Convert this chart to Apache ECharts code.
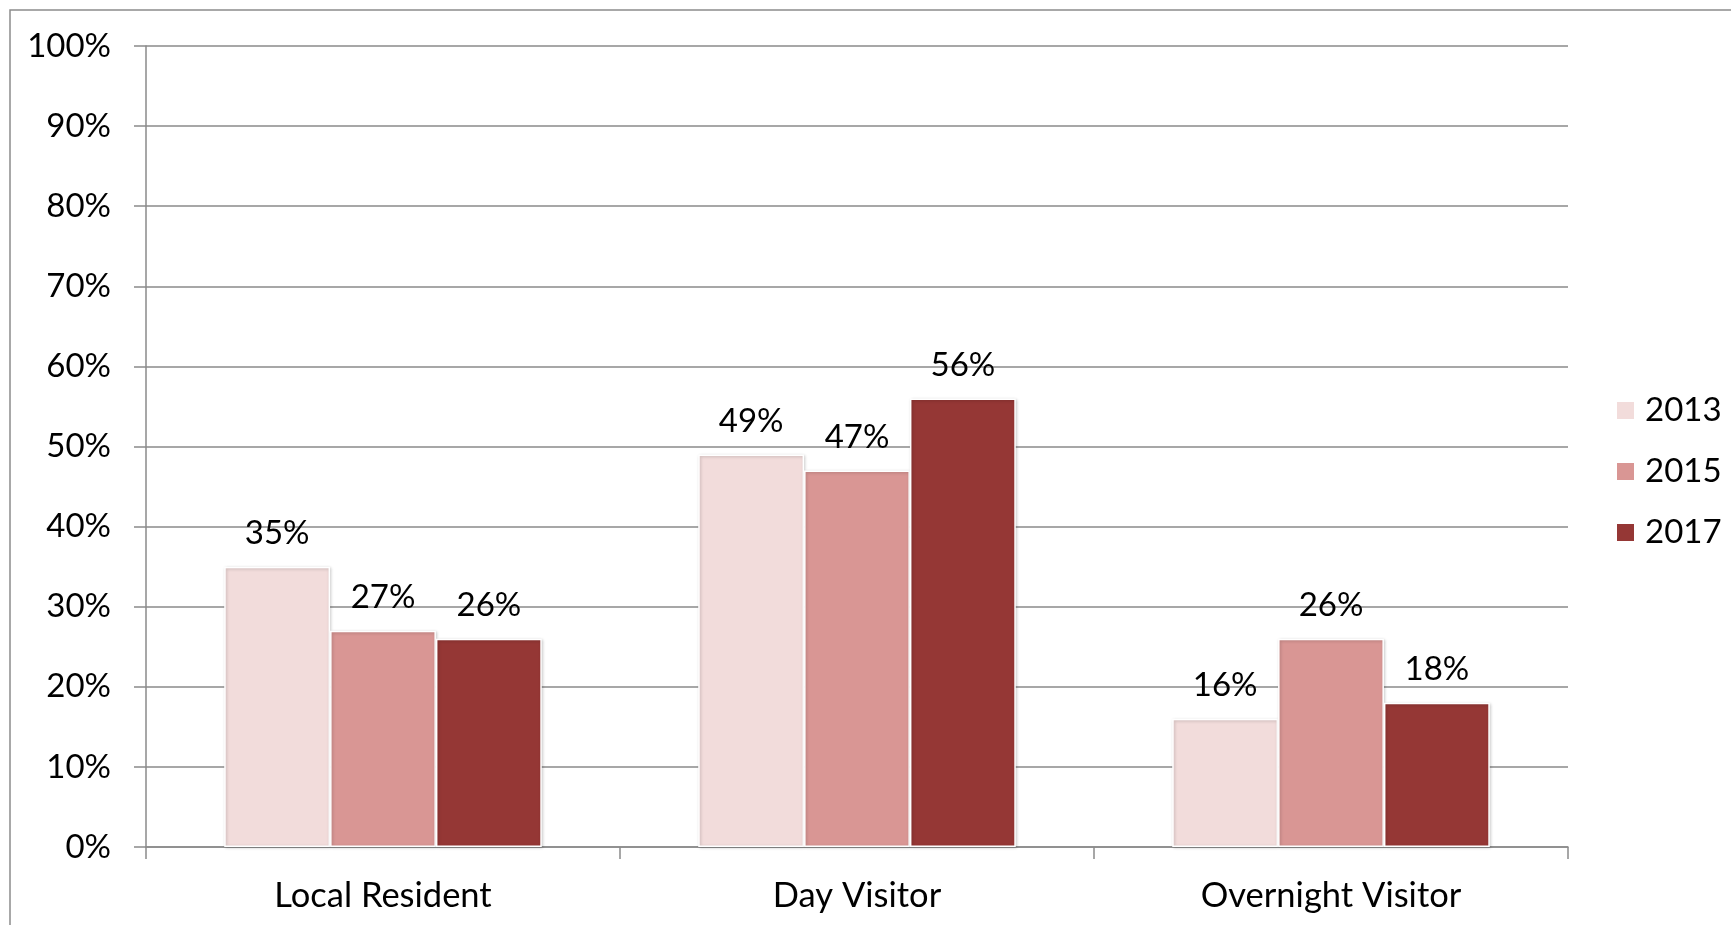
<!DOCTYPE html>
<html>
<head>
<meta charset="utf-8">
<style>
  html, body { margin: 0; padding: 0; background: #ffffff; }
  #chart { width: 1731px; height: 925px; }
</style>
<script src="https://cdn.jsdelivr.net/npm/echarts@6/dist/echarts.min.js"></script>
</head>
<body>
<div id="chart"></div>
<script>
// Visitor type shares by survey year
const categories = ['Local Resident', 'Day Visitor', 'Overnight Visitor'];
const years = ['2013', '2015', '2017'];
const values2013 = [35, 49, 16];
const values2015 = [27, 47, 26];
const values2017 = [26, 56, 18];
const yTickLabels = ['0%', '10%', '20%', '30%', '40%', '50%', '60%', '70%', '80%', '90%', '100%'];

const colors = ['#F2DCDB', '#D99694', '#953735'];
const seriesValues = [values2013, values2015, values2017];
const gridGray = '#8a8a8a';
const fontFamily = 'Lato, "Open Sans", sans-serif';

const chart = echarts.init(document.getElementById('chart'), null, { renderer: 'canvas' });

const series = years.map((year, i) => ({
  name: year,
  type: 'bar',
  data: seriesValues[i],
  barGap: '0%',
  barCategoryGap: '33%',
  itemStyle: {
    color: colors[i],
    borderColor: '#ffffff',
    borderWidth: 1.5,
    shadowColor: 'rgba(0,0,0,0.22)',
    shadowBlur: 3,
    shadowOffsetX: 1,
    shadowOffsetY: 1
  },
  label: {
    show: true,
    position: 'top',
    distance: 17,
    formatter: '{c}%',
    color: '#000000',
    fontFamily: fontFamily,
    fontSize: 33
  }
}));

chart.setOption({
  animation: false,
  backgroundColor: '#ffffff',
  textStyle: { fontFamily: fontFamily },
  graphic: [{
    type: 'rect',
    shape: { x: 10, y: 10, width: 1740, height: 940 },
    style: { fill: 'none', stroke: '#8c8c8c', lineWidth: 1.5 },
    silent: true,
    z: -1
  }],
  grid: { left: 146, top: 46, right: 163, bottom: 78, containLabel: false },
  legend: {
    orient: 'vertical',
    left: 1615,
    top: 394,
    padding: 0,
    itemWidth: 19,
    itemHeight: 19,
    itemGap: 28,
    icon: 'rect',
    data: years,
    textStyle: {
      color: '#000000',
      fontFamily: fontFamily,
      fontSize: 33,
      lineHeight: 32,
      padding: [0, 0, 0, 5]
    }
  },
  xAxis: {
    type: 'category',
    data: categories,
    axisLine: { show: true, lineStyle: { color: gridGray, width: 1.5 } },
    axisTick: { show: true, length: 12, lineStyle: { color: gridGray, width: 1.5 } },
    axisLabel: { color: '#000000', fontFamily: fontFamily, fontSize: 34.5, margin: 31 }
  },
  yAxis: {
    type: 'value',
    min: 0,
    max: 100,
    interval: 10,
    axisLine: { show: true, lineStyle: { color: gridGray, width: 1.5 } },
    axisTick: { show: true, length: 12, lineStyle: { color: gridGray, width: 1.5 } },
    splitLine: { show: true, lineStyle: { color: gridGray, width: 1.5 } },
    axisLabel: {
      color: '#000000',
      fontFamily: fontFamily,
      fontSize: 33,
      margin: 35,
      formatter: (v) => yTickLabels[Math.round(v / 10)]
    }
  },
  series: series
});
</script>
</body>
</html>
